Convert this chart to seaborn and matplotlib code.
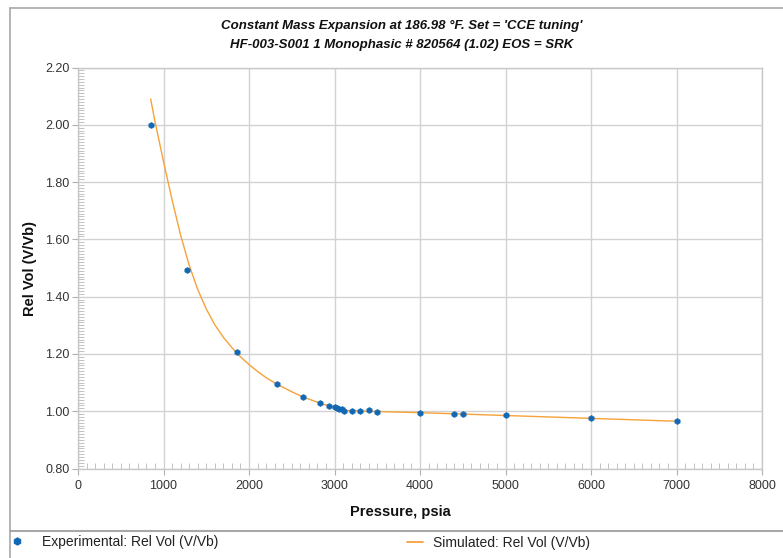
import matplotlib
matplotlib.use("Agg")
import matplotlib.pyplot as plt
import seaborn as sns
import pandas as pd
from matplotlib.lines import Line2D
from matplotlib.ticker import MultipleLocator, FormatStrFormatter

# ---- data ----
exp_pressure = [850, 1272, 1855, 2330, 2637, 2832, 2940, 3000, 3026, 3057, 3089, 3115,
                3200, 3300, 3400, 3500, 4000, 4400, 4500, 5000, 6000, 7000]
exp_relvol = [2.000, 1.494, 1.207, 1.095, 1.048, 1.028, 1.018, 1.014, 1.011, 1.009, 1.007, 1.001,
              1.002, 1.002, 1.003, 0.999, 0.995, 0.990, 0.990, 0.986, 0.975, 0.966]

sim_pressure = [850, 900, 1000, 1100, 1200, 1300, 1400, 1500, 1600, 1700, 1800, 1900,
                2000, 2100, 2200, 2330, 2500, 2630, 2830, 3000, 3100, 3150, 3500, 4000, 4500,
                5000, 5500, 6000, 6500, 7000]
sim_relvol = [2.090, 2.012, 1.872, 1.738, 1.615, 1.510, 1.425, 1.357, 1.302, 1.258, 1.222, 1.190,
              1.163, 1.139, 1.117, 1.094, 1.068, 1.050, 1.028, 1.013, 1.005, 1.002, 0.999, 0.995,
              0.990, 0.985, 0.980, 0.975, 0.970, 0.965]

title1 = "Constant Mass Expansion at 186.98 \u00b0F. Set = 'CCE tuning'"
title2 = "HF-003-S001 1 Monophasic # 820564 (1.02) EOS = SRK"
xlabel = "Pressure, psia"
ylabel = "Rel Vol (V/Vb)"
exp_label = "Experimental: Rel Vol (V/Vb)"
sim_label = "Simulated: Rel Vol (V/Vb)"

exp_df = pd.DataFrame({"p": exp_pressure, "v": exp_relvol})
sim_df = pd.DataFrame({"p": sim_pressure, "v": sim_relvol})

sns.set_theme(style="white")
plt.rcParams["font.family"] = ["Liberation Sans", "DejaVu Sans"]

W, H = 783, 558
fig = plt.figure(figsize=(W / 100, H / 100), dpi=100)
fig.patch.set_facecolor("white")

def fx(px):
    return px / W

def fy(py):
    return 1 - py / H

ax = fig.add_axes([fx(78), fy(468.5), fx(762) - fx(78), fy(67.5) - fy(468.5)])

line_color = "#f5a23a"
dot_color = "#1368b4"

sns.lineplot(data=sim_df, x="p", y="v", ax=ax, color=line_color, linewidth=1.0, sort=True)
sns.scatterplot(data=exp_df, x="p", y="v", ax=ax, color=dot_color, marker="h", s=20,
                edgecolor=dot_color, linewidth=0.3, zorder=5)

ax.set_xlim(0, 8000)
ax.set_ylim(0.80, 2.20)
ax.xaxis.set_major_locator(MultipleLocator(1000))
ax.xaxis.set_minor_locator(MultipleLocator(100))
ax.yaxis.set_major_locator(MultipleLocator(0.2))
ax.yaxis.set_minor_locator(MultipleLocator(0.01))
ax.yaxis.set_major_formatter(FormatStrFormatter("%.2f"))
ax.set_xlabel("")
ax.set_ylabel("")

ax.grid(True, which="major", color="#d2d2d2", linewidth=1.0)
ax.set_axisbelow(True)
for s in ax.spines.values():
    s.set_color("#c8c8c8")
    s.set_linewidth(1.0)

ax.tick_params(axis="both", which="major", direction="out", length=4, width=0.8,
               color="#b0b0b0", labelsize=9, labelcolor="#333333", pad=2,
               bottom=True, left=True)
ax.tick_params(axis="both", which="minor", direction="in", length=4, width=0.6,
               color="#b8b8b8", bottom=True, left=True)
ax.tick_params(axis="x", which="major", pad=4)

# titles and axis labels
fig.text(fx(402), fy(26), title1, ha="center", va="center", fontsize=9.5,
         fontweight="bold", fontstyle="italic", color="#111111")
fig.text(fx(402), fy(45), title2, ha="center", va="center", fontsize=9.5,
         fontweight="bold", fontstyle="italic", color="#111111")
fig.text(fx(400), fy(512), xlabel, ha="center", va="center", fontsize=10.5,
         fontweight="bold", color="#111111")
fig.text(fx(30), fy(268), ylabel, ha="center", va="center", rotation=90,
         fontsize=10.5, fontweight="bold", color="#111111")

# outer frame lines
frame_c = "#a8a8a8"
fig.add_artist(Line2D([fx(9.5), 1.0], [fy(7.5), fy(7.5)], color=frame_c, lw=1.2))
fig.add_artist(Line2D([fx(9.5), fx(9.5)], [fy(7.5), 0.0], color=frame_c, lw=1.2))
fig.add_artist(Line2D([fx(9.5), 1.0], [fy(530.5), fy(530.5)], color=frame_c, lw=1.5))

# legends
h_exp = Line2D([], [], color=dot_color, marker="h", linestyle="none", markersize=5)
h_sim = Line2D([], [], color=line_color, linewidth=1.3)
leg1 = fig.legend([h_exp], [exp_label], loc="center left", bbox_to_anchor=(fx(9), fy(542)),
                  frameon=False, borderpad=0, borderaxespad=0, handlelength=1.15,
                  handletextpad=1.2, fontsize=10, labelcolor="#222222")
leg2 = fig.legend([h_sim], [sim_label], loc="center left", bbox_to_anchor=(fx(407), fy(543)),
                  frameon=False, borderpad=0, borderaxespad=0, handlelength=1.15,
                  handletextpad=0.7, fontsize=10, labelcolor="#222222")

fig.savefig("out.png", dpi=100, facecolor="white")
